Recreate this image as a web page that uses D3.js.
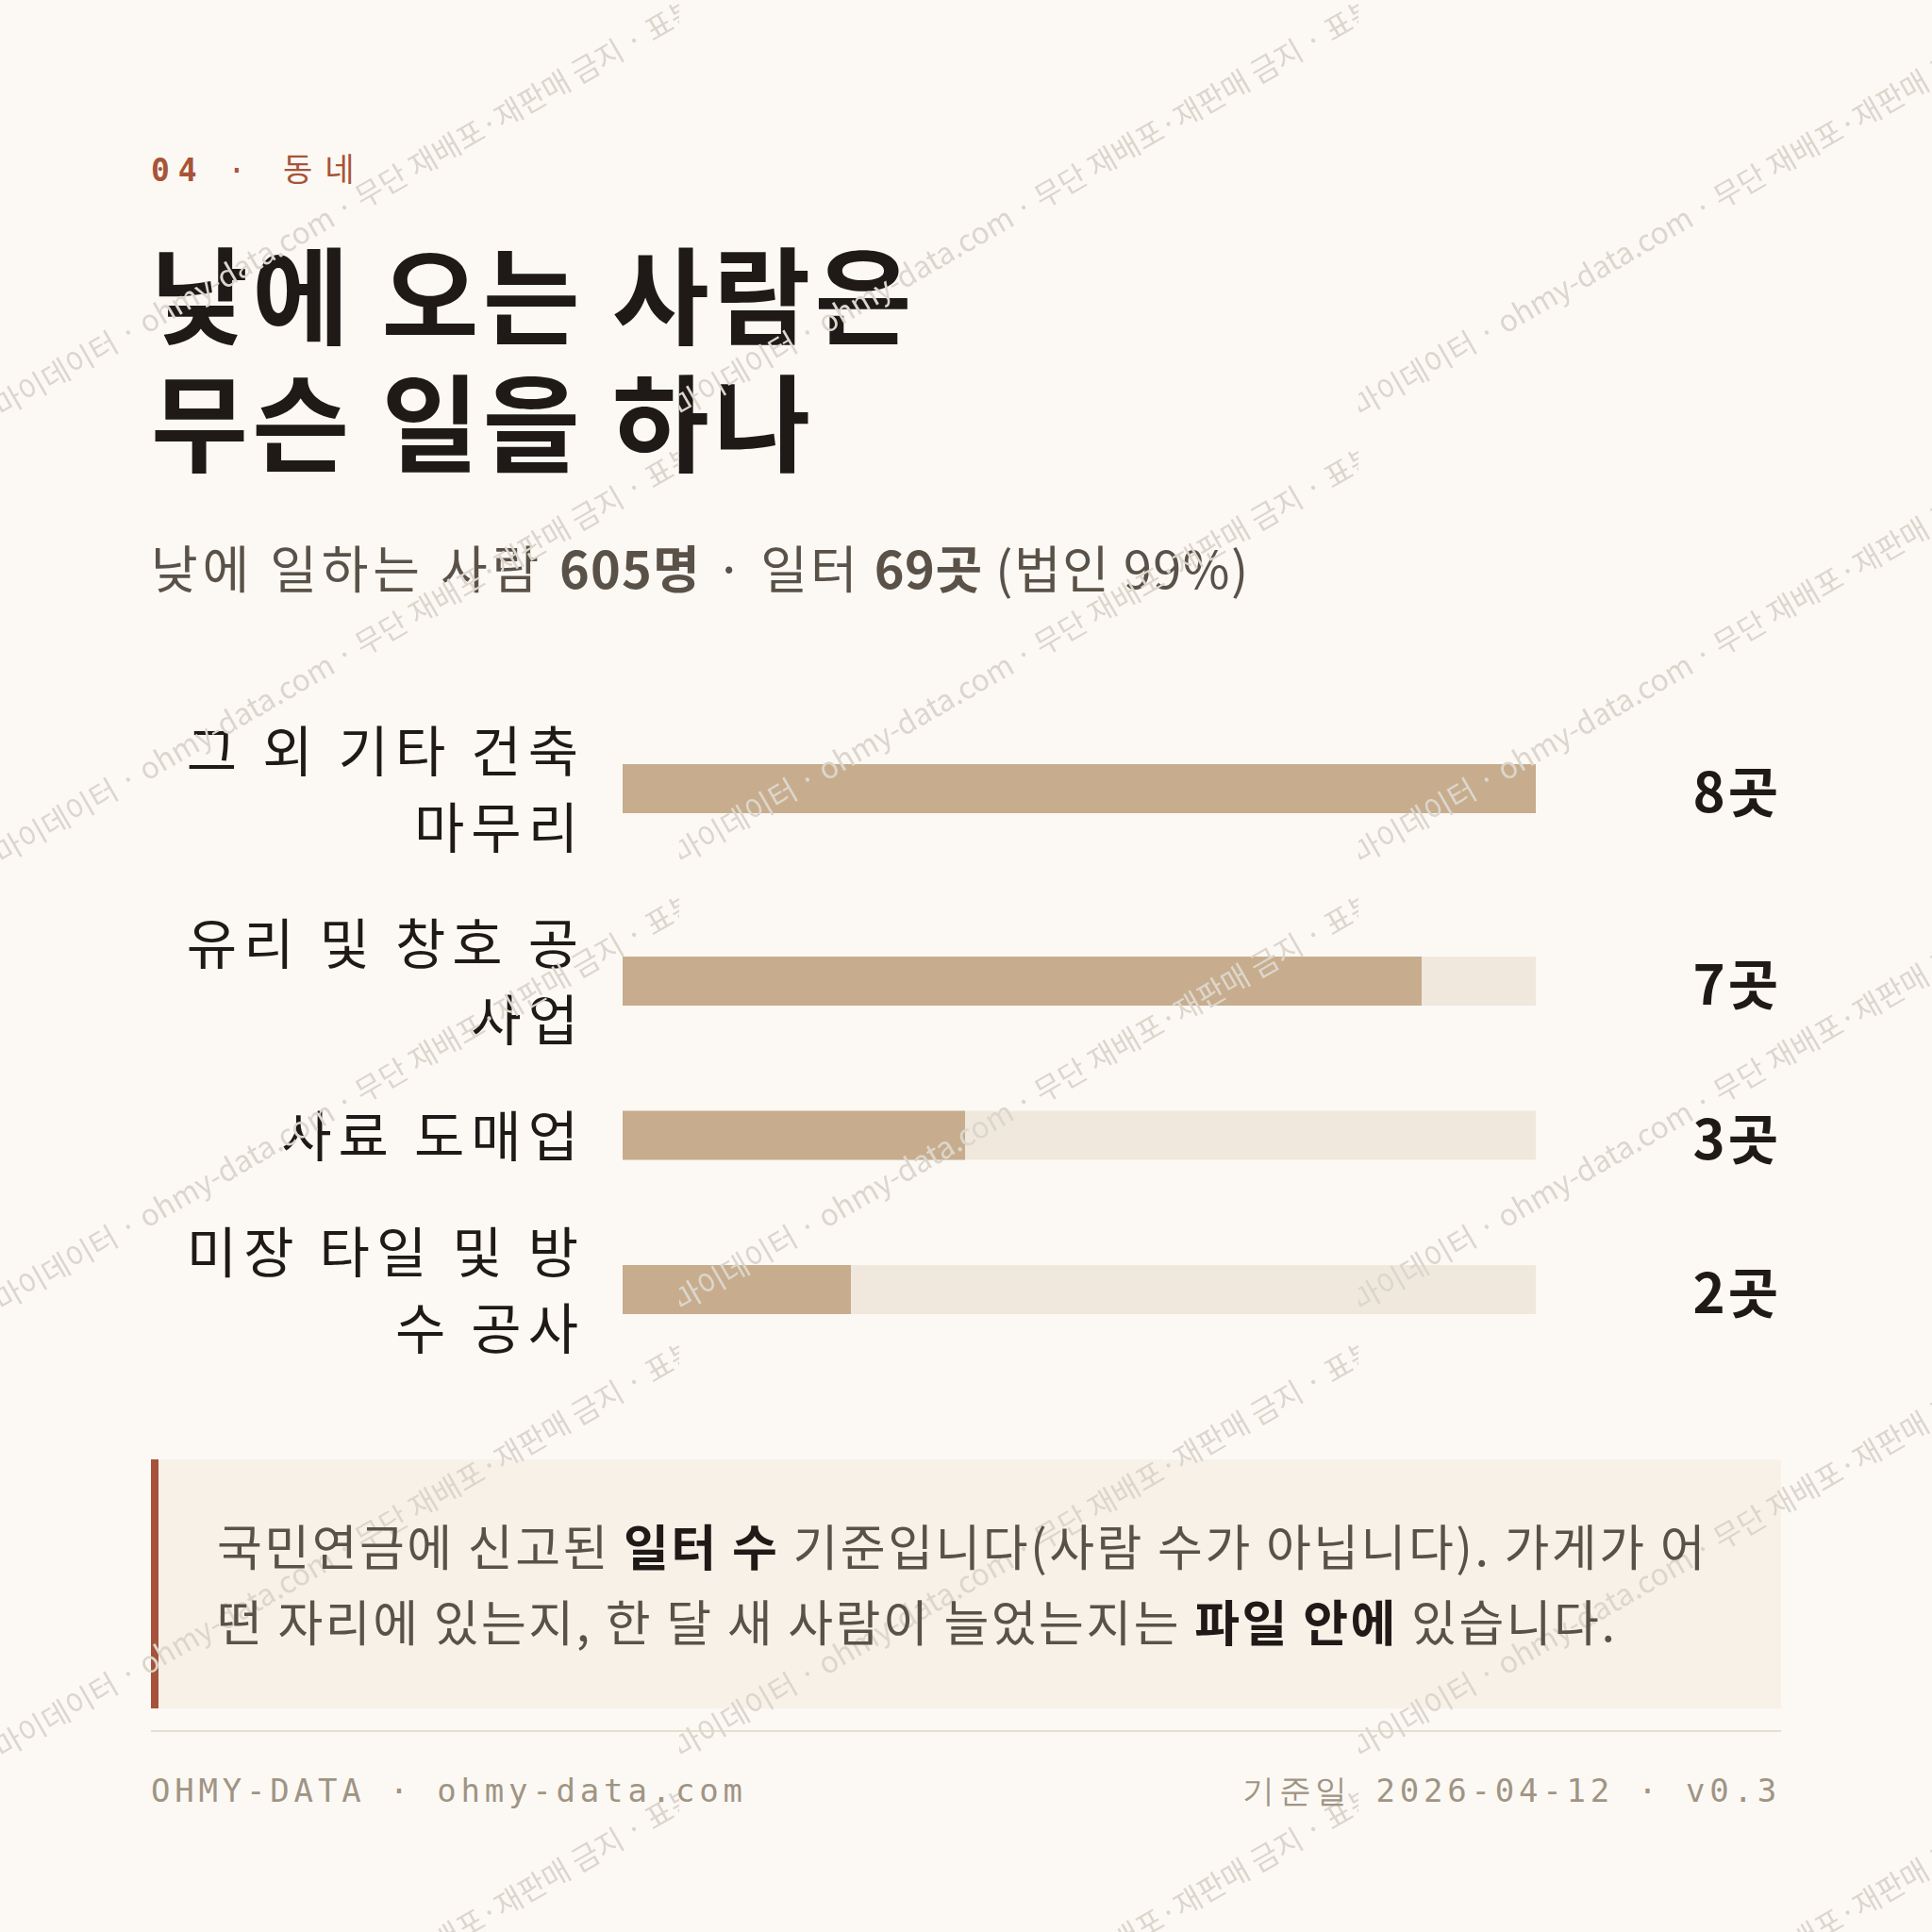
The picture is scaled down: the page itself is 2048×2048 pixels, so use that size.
<!DOCTYPE html>
<html><head><meta charset="utf-8">
<script src="https://cdn.jsdelivr.net/npm/d3@7"></script>
<style>
html,body{margin:0;padding:0;background:#fcf9f4;}
svg text{white-space:pre;}
</style></head>
<body>
<script>
// ---------- data ----------
const kickerNum = "04";
const kickerSep = "·";
const kickerText = "동네";
const titleLines = ["낮에 오는 사람은", "무슨 일을 하나"];
const subtitleRuns = [["낮에 일하는 사람 ", 0], ["605명", 1], [" · 일터 ", 0], ["69곳", 1], [" (법인 99%)", 0]];
const categories = ["그 외 기타 건축 마무리", "유리 및 창호 공사업", "사료 도매업", "미장 타일 및 방수 공사"];
const values = [8, 7, 3, 2];
const unit = "곳";
const noteRuns = [["국민연금에 신고된 ", 0], ["일터 수", 1], [" 기준입니다(사람 수가 아닙니다). 가게가 어떤 자리에 있는지, 한 달 새 사람이 늘었는지는 ", 0], ["파일 안에", 1], [" 있습니다.", 0]];
const footerLeft = "OHMY-DATA · ohmy-data.com";
const footerRight = "기준일 2026-04-12 · v0.3";
const watermarkText = "마이데이터 · ohmy-data.com · 무단 재배포·재판매 금지 · 표본";

// ---------- style ----------
const W = 2048, H = 2048, ML = 160, MR = 1888;
const SANS = "'Noto Sans CJK KR', 'Noto Sans', sans-serif";
const MONO = "'DejaVu Sans Mono', monospace";
const C = {bg:"#fcf9f4", ink:"#1f1a17", sub:"#5a5248", accent:"#a85438", bar:"#c7ad8d", track:"#f0e8dc",
           noteBg:"#f7f1e8", noteBorder:"#a5533a", rule:"#e6dfd2", foot:"#a09484", wm:"#dcd6cd"};
const subLS = [4.9, 1.1, 3.0, 0.5, 1.5];

const svg = d3.select("body").append("svg").attr("width", W).attr("height", H)
  .style("display","block").style("font-family", SANS);
svg.append("rect").attr("width", W).attr("height", H).attr("fill", C.bg);

// measurement helper
const meas = svg.append("text").attr("x", -9999).attr("y", -9999).style("font-family", SANS);
function tw(str, size, weight, ls){
  meas.attr("font-size", size).attr("font-weight", weight).attr("letter-spacing", ls || 0).text(str);
  return meas.node().getComputedTextLength();
}
function groupRuns(arr){
  const out = [];
  arr.forEach(ch => {
    if (out.length && out[out.length-1].b === ch.b) out[out.length-1].t += ch.c;
    else out.push({t: ch.c, b: ch.b});
  });
  return out;
}
// syllable-level greedy wrap (Korean) for runs [[text,bold],...]
function wrapRuns(runs, maxW, size, ls){
  const chars = [];
  runs.forEach(([t,b]) => [...t].forEach(c => chars.push({c, b})));
  const lines = []; let cur = [];
  const lineW = arr => {
    let a = arr.slice(); while(a.length && a[a.length-1].c === " ") a.pop();
    let s = 0; groupRuns(a).forEach(r => s += tw(r.t, size, r.b ? 700 : 400, ls)); return s;
  };
  const noStart = ".,)!?%";
  chars.forEach(ch => {
    if (ch.c === " " && cur.length === 0 && lines.length) return;
    const trial = cur.concat([ch]);
    if (ch.c !== " " && cur.length && lineW(trial) > maxW){
      let carry = [];
      if (noStart.includes(ch.c)) carry = [cur.pop()];
      while(cur.length && cur[cur.length-1].c === " ") cur.pop();
      lines.push(cur); cur = carry;
    }
    cur.push(ch);
  });
  while(cur.length && cur[cur.length-1].c === " ") cur.pop();
  if (cur.length) lines.push(cur);
  return lines.map(groupRuns);
}

// ---------- header ----------
const kick = svg.append("g").attr("fill", C.accent);
kick.append("text").attr("x", ML).attr("y", 192).style("font-family", MONO).attr("font-size", 33)
  .attr("font-weight", 700).attr("letter-spacing", 9).text(kickerNum);
kick.append("text").attr("x", 241).attr("y", 192).style("font-family", MONO).attr("font-size", 33)
  .text(kickerSep);
kick.append("text").attr("x", 300).attr("y", 192).attr("font-size", 34)
  .attr("letter-spacing", 13).text(kickerText);

svg.selectAll("text.title").data(titleLines).join("text").attr("class","title")
  .attr("x", ML).attr("y", (d,i) => 357 + i*135).attr("letter-spacing", 4.3)
  .attr("font-size", 112).attr("font-weight", 700).attr("fill", C.ink).text(d => d);

const sub = svg.append("text").attr("x", ML).attr("y", 624).attr("font-size", 54).attr("fill", C.sub);
sub.selectAll("tspan").data(subtitleRuns).join("tspan")
  .attr("letter-spacing", (d, i) => subLS[i])
  .attr("font-weight", d => d[1] ? 700 : 400).text(d => d[0]);

// ---------- chart ----------
const labelSize = 58, labelLS = 7, lineH = 81, rowGap = 42, barH = 52;
const labelRight = 614, labelW = labelRight - ML;
const x = d3.scaleLinear().domain([0, d3.max(values)]).range([660, 1628]);
const rows = categories.map((c, i) => ({cat: c, v: values[i], lines: wrapRuns([[c,0]], labelW, labelSize, labelLS)}));
let yCur = 755;
rows.forEach(r => { r.h = r.lines.length * lineH; r.top = yCur; r.cy = yCur + r.h/2; yCur += r.h + rowGap; });

const row = svg.append("g").selectAll("g.row").data(rows).join("g").attr("class","row");
row.append("rect").attr("x", x(0)).attr("y", d => d.cy - barH/2)
  .attr("width", x(d3.max(values)) - x(0)).attr("height", barH).attr("fill", C.track);
row.append("rect").attr("x", x(0)).attr("y", d => d.cy - barH/2)
  .attr("width", d => x(d.v) - x(0)).attr("height", barH).attr("fill", C.bar);

// ---------- note box ----------
const noteTop = 1547, noteBot = 1811;
svg.append("rect").attr("x", ML).attr("y", noteTop).attr("width", MR - ML).attr("height", noteBot - noteTop).attr("fill", C.noteBg);
svg.append("rect").attr("x", ML).attr("y", noteTop).attr("width", 8).attr("height", noteBot - noteTop).attr("fill", C.noteBorder);
svg.append("rect").attr("x", ML).attr("y", 1834).attr("width", MR - ML).attr("height", 2).attr("fill", C.rule);

// ---------- watermark ----------
const defs = svg.append("defs");
const pat = defs.append("pattern").attr("id","wm").attr("patternUnits","userSpaceOnUse")
  .attr("x", 0).attr("y", 0).attr("width", 720).attr("height", 474);
pat.append("text").attr("transform","translate(2,443) rotate(-30)")
  .style("font-family", SANS).attr("font-size", 31.6).attr("fill", C.wm).text(watermarkText);
svg.append("rect").attr("width", W).attr("height", H).attr("fill","url(#wm)");

// ---------- chart text ----------
row.each(function(d){
  const gg = d3.select(this);
  const n = d.lines.length;
  gg.selectAll("text.lab").data(d.lines).join("text").attr("class","lab")
    .attr("x", labelRight + labelLS - 1).attr("text-anchor","end")
    .attr("y", (l, i) => d.cy + (i - (n-1)/2) * lineH + 22)
    .attr("font-size", labelSize).attr("letter-spacing", labelLS).attr("fill", C.ink)
    .text(l => l.map(r => r.t).join(""));
});
row.append("text").attr("x", 1888).attr("y", d => d.cy + 25).attr("text-anchor","end")
  .attr("font-size", 58).attr("font-weight", 700).attr("letter-spacing", 3).attr("fill", C.ink)
  .text(d => d.v + unit);

// ---------- note text ----------
const noteSize = 52, noteLS = 2.5, noteLineH = 80;
const noteLines = wrapRuns(noteRuns, 1600, noteSize, noteLS);
noteLines.forEach((ln, i) => {
  const t = svg.append("text").attr("x", 230).attr("y", 1660 + i*noteLineH).attr("font-size", noteSize)
    .attr("letter-spacing", noteLS).attr("fill", C.sub);
  ln.forEach(r => t.append("tspan").attr("font-weight", r.b ? 700 : 400).attr("fill", r.b ? C.ink : C.sub).text(r.t));
});

// ---------- footer ----------
svg.append("text").attr("x", ML).attr("y", 1910).style("font-family", MONO).attr("font-size", 34)
  .attr("letter-spacing", 4.8).attr("fill", C.foot).text(footerLeft);
svg.append("text").attr("x", MR).attr("y", 1910).attr("text-anchor","end").style("font-family", MONO).attr("font-size", 34)
  .attr("letter-spacing", 4.8).attr("fill", C.foot).text(footerRight);
meas.remove();
</script>
</body></html>
